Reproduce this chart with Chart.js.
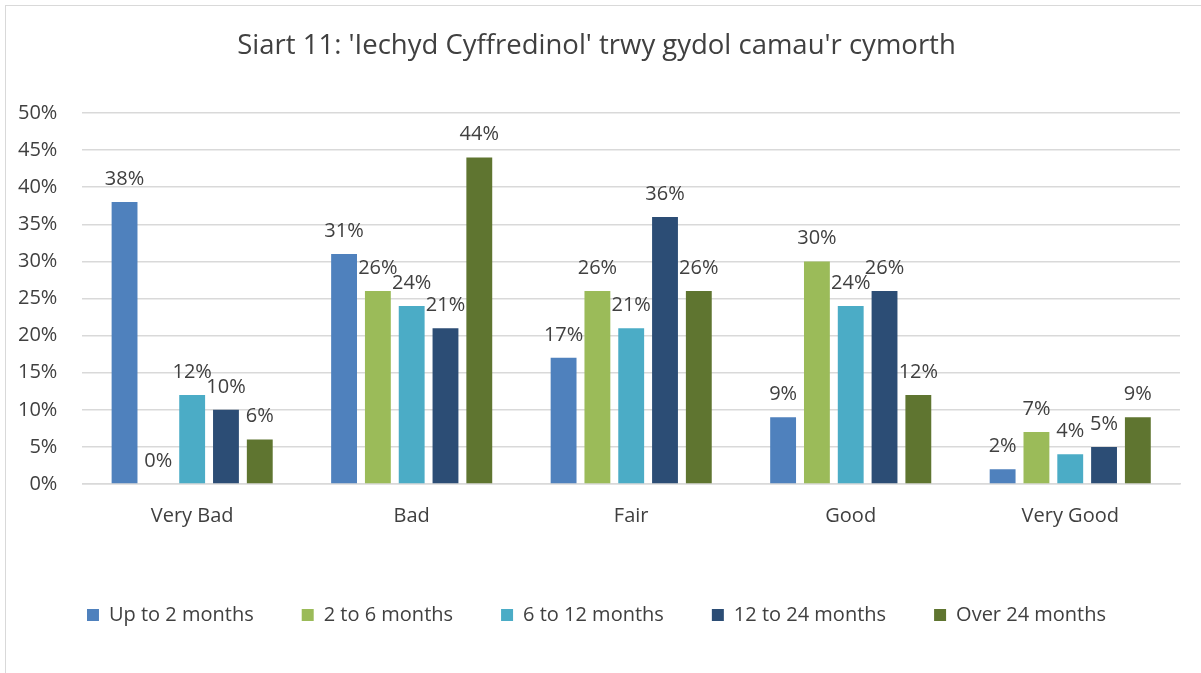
<!DOCTYPE html>
<html>
<head>
<meta charset="utf-8">
<script src="https://cdn.jsdelivr.net/npm/chart.js@4.4.1/dist/chart.umd.min.js"></script>
<style>
  html, body { margin: 0; padding: 0; background: #fff; }
  #frame {
    position: absolute; left: 5px; top: 5px;
    width: 1205px; height: 680px;
    border: 1px solid #d9d9d9; box-sizing: border-box;
  }
  #wrap { position: absolute; left: -6px; top: -6px; width: 1201px; height: 673px; }
</style>
</head>
<body>
<div id="frame"><div id="wrap"><canvas id="chart"></canvas></div></div>
<script>
// Siart 11 - general health across support stages

const categories = ['Very Bad', 'Bad', 'Fair', 'Good', 'Very Good'];
const seriesNames = ['Up to 2 months', '2 to 6 months', '6 to 12 months', '12 to 24 months', 'Over 24 months'];
const seriesColors = ['#4f81bd', '#9bbb59', '#4bacc6', '#2c4d75', '#5f7530'];

const upTo2 = [38, 31, 17, 9, 2];
const from2to6 = [0, 26, 26, 30, 7];
const from6to12 = [12, 24, 21, 24, 4];
const from12to24 = [10, 21, 36, 26, 5];
const over24 = [6, 44, 26, 12, 9];

const allSeries = [upTo2, from2to6, from6to12, from12to24, over24];

const FONT = "'Open Sans', 'Noto Sans', sans-serif";

// draws "38%" style labels above every bar
const barLabels = {
  id: 'barLabels',
  afterDatasetsDraw(chart) {
    const ctx = chart.ctx;
    ctx.save();
    ctx.font = '20px ' + FONT;
    ctx.fillStyle = '#404040';
    ctx.textAlign = 'center';
    ctx.textBaseline = 'bottom';
    chart.data.datasets.forEach((ds, i) => {
      chart.getDatasetMeta(i).data.forEach((bar, j) => {
        ctx.fillText(ds.data[j] + '%', bar.x, bar.y - 13);
      });
    });
    ctx.restore();
  }
};

new Chart(document.getElementById('chart'), {
  type: 'bar',
  data: {
    labels: categories,
    datasets: allSeries.map((vals, i) => ({
      label: seriesNames[i],
      data: vals,
      backgroundColor: seriesColors[i],
      borderWidth: 0,
      categoryPercentage: 0.77,
      barPercentage: 0.765
    }))
  },
  options: {
    responsive: true,
    maintainAspectRatio: false,
    animation: false,
    layout: { padding: { left: 13, right: 21, top: 10, bottom: 38 } },
    plugins: {
      title: {
        display: true,
        text: "Siart 11: 'Iechyd Cyffredinol' trwy gydol camau'r cymorth",
        color: '#404040',
        font: { family: FONT, size: 27.5, weight: 'normal' },
        padding: { top: 20, bottom: 50 }
      },
      legend: {
        position: 'bottom',
        labels: {
          color: '#404040',
          font: { family: FONT, size: 20 },
          boxWidth: 12,
          boxHeight: 12,
          padding: 48
        }
      },
      tooltip: { enabled: false }
    },
    scales: {
      y: {
        min: 0,
        max: 50,
        ticks: {
          stepSize: 5,
          color: '#404040',
          padding: 25,
          font: { family: FONT, size: 20 },
          callback: v => v + '%'
        },
        grid: { color: '#d9d9d9', lineWidth: 1.5, drawTicks: false },
        border: { display: false },
        afterFit: scale => { scale.width -= 20; }
      },
      x: {
        ticks: {
          color: '#404040',
          padding: 20,
          font: { family: FONT, size: 20 }
        },
        grid: { display: false, drawTicks: false },
        border: { color: '#d9d9d9', width: 1.5 },
        afterFit: scale => { scale.height += 9; }
      }
    }
  },
  plugins: [barLabels]
});
</script>
</body>
</html>
